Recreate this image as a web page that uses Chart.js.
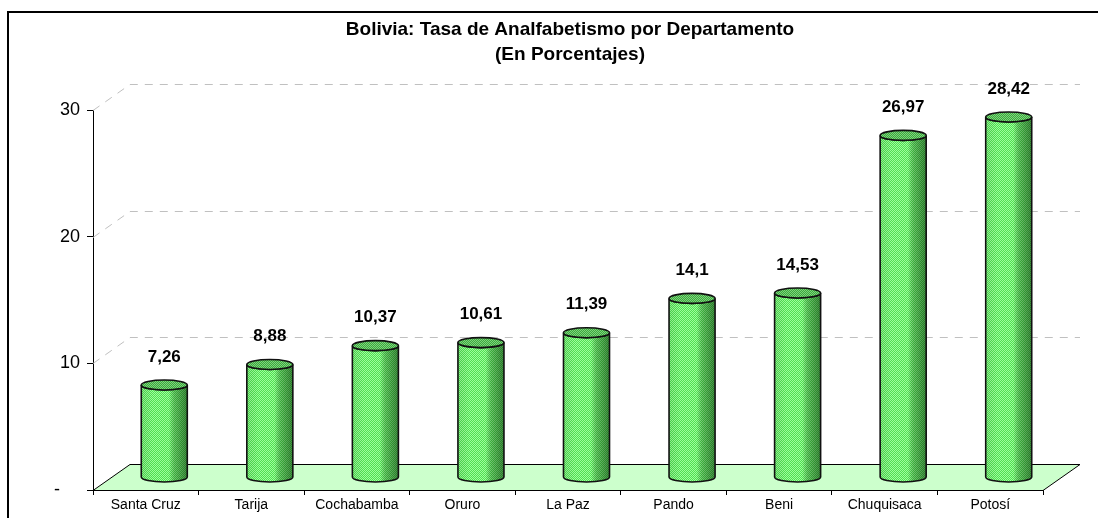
<!DOCTYPE html>
<html>
<head>
<meta charset="utf-8">
<script src="https://cdn.jsdelivr.net/npm/chart.js@4.4.1/dist/chart.umd.min.js"></script>
<style>
  html, body { margin: 0; padding: 0; background: #fff; }
  canvas { display: block; }
</style>
</head>
<body>
<canvas id="c" width="1098" height="518"></canvas>
<script>
// ---- data ----
const categories = ['Santa Cruz', 'Tarija', 'Cochabamba', 'Oruro', 'La Paz', 'Pando', 'Beni', 'Chuquisaca', 'Potosí'];
const values = [7.26, 8.88, 10.37, 10.61, 11.39, 14.1, 14.53, 26.97, 28.42];
const yTicks = [0, 10, 20, 30];
const titleLines = ['Bolivia: Tasa de Analfabetismo por Departamento', '(En Porcentajes)'];

// ---- style ----
const FONT = '"Liberation Sans", Arial, sans-serif';
const DX = 37, DY = 26;   // 3D depth offset
const RY = 5;             // ellipse vertical radius

function checker(c1, c2) {
  const p = document.createElement('canvas');
  p.width = 2; p.height = 2;
  const g = p.getContext('2d');
  g.fillStyle = c1; g.fillRect(0, 0, 2, 2);
  g.fillStyle = c2; g.fillRect(0, 0, 1, 1); g.fillRect(1, 1, 1, 1);
  return p;
}

const threeD = {
  id: 'threeD',
  beforeDraw(chart) {
    const ctx = chart.ctx;
    ctx.save();
    ctx.fillStyle = '#fff';
    ctx.fillRect(0, 0, chart.width, chart.height);
    // outer frame
    ctx.strokeStyle = '#000';
    ctx.lineWidth = 2;
    ctx.beginPath();
    ctx.moveTo(8, chart.height + 2);
    ctx.lineTo(8, 12);
    ctx.lineTo(chart.width + 2, 12);
    ctx.stroke();
    // title
    ctx.fillStyle = '#000';
    ctx.font = 'bold 19px ' + FONT;
    ctx.textAlign = 'center';
    ctx.textBaseline = 'middle';
    ctx.fillText(titleLines[0], 570, 30);
    ctx.fillText(titleLines[1], 570, 55);
    ctx.restore();
  },
  beforeDatasetsDraw(chart) {
    const ctx = chart.ctx;
    const a = chart.chartArea;
    const y = chart.scales.y;
    ctx.save();
    // back grid lines
    ctx.strokeStyle = '#c0c0c0';
    ctx.lineWidth = 1;
    ctx.setLineDash([8, 7]);
    yTicks.forEach(v => {
      if (v === 0) return;
      const py = Math.round(y.getPixelForValue(v)) + 0.5;
      ctx.beginPath();
      ctx.moveTo(a.left, py);
      ctx.lineTo(a.left + DX, py - DY);
      ctx.lineTo(a.right + DX, py - DY);
      ctx.stroke();
    });
    ctx.setLineDash([]);
    // floor
    const fy = Math.round(y.getPixelForValue(0)) + 0.5;
    ctx.beginPath();
    ctx.moveTo(a.left, fy);
    ctx.lineTo(a.left + DX, fy - DY);
    ctx.lineTo(a.right + DX, fy - DY);
    ctx.lineTo(a.right, fy);
    ctx.closePath();
    ctx.fillStyle = '#ccffcc';
    ctx.fill();
    ctx.strokeStyle = '#000';
    ctx.lineWidth = 1;
    ctx.stroke();
    ctx.restore();
  },
  afterDatasetsDraw(chart) {
    const ctx = chart.ctx;
    const y = chart.scales.y;
    const meta = chart.getDatasetMeta(0);
    const bodyPat = ctx.createPattern(checker('#52dd52', '#9cff9c'), 'repeat');
    const topPat = ctx.createPattern(checker('#3ea63e', '#7cd67c'), 'repeat');
    ctx.save();
    meta.data.forEach((bar, i) => {
      const v = chart.data.datasets[0].data[i];
      const rx = bar.width / 2;
      const cx = bar.x + DX / 2;
      const topY = y.getPixelForValue(v) - DY / 2;
      const botY = y.getPixelForValue(0) - DY / 2;
      // body path
      ctx.beginPath();
      ctx.moveTo(cx - rx, topY);
      ctx.lineTo(cx - rx, botY);
      ctx.ellipse(cx, botY, rx, RY, 0, Math.PI, 0, true);
      ctx.lineTo(cx + rx, topY);
      ctx.ellipse(cx, topY, rx, RY, 0, 0, Math.PI, false);
      ctx.closePath();
      ctx.fillStyle = bodyPat;
      ctx.fill();
      const g = ctx.createLinearGradient(cx - rx, 0, cx + rx, 0);
      g.addColorStop(0, 'rgba(0,60,0,0.10)');
      g.addColorStop(0.25, 'rgba(0,0,0,0)');
      g.addColorStop(0.6, 'rgba(0,0,0,0)');
      g.addColorStop(0.72, 'rgba(0,50,0,0.28)');
      g.addColorStop(1, 'rgba(0,40,0,0.55)');
      ctx.fillStyle = g;
      ctx.fill();
      ctx.strokeStyle = '#111';
      ctx.lineWidth = 1.6;
      ctx.stroke();
      // top ellipse
      ctx.beginPath();
      ctx.ellipse(cx, topY, rx, RY, 0, 0, Math.PI * 2);
      ctx.fillStyle = topPat;
      ctx.fill();
      ctx.stroke();
      // value label
      ctx.fillStyle = '#000';
      ctx.font = 'bold 17px ' + FONT;
      ctx.textAlign = 'center';
      ctx.textBaseline = 'middle';
      ctx.fillText(String(v).replace('.', ','), cx, topY - 28);
    });
    ctx.restore();
  }
};

new Chart(document.getElementById('c'), {
  type: 'bar',
  data: {
    labels: categories,
    datasets: [{
      data: values,
      backgroundColor: 'rgba(0,0,0,0)',
      borderWidth: 0,
      categoryPercentage: 1,
      barPercentage: 0.436
    }]
  },
  options: {
    responsive: false,
    animation: false,
    devicePixelRatio: 1,
    layout: { padding: { top: 110, right: 55, bottom: 0, left: 0 } },
    plugins: {
      legend: { display: false },
      title: { display: false },
      tooltip: { enabled: false }
    },
    scales: {
      x: {
        grid: { display: true, drawOnChartArea: false, drawTicks: true, tickLength: 5, color: '#000', offset: true },
        border: { display: true, color: '#000', width: 1 },
        ticks: { color: '#000', font: { family: FONT, size: 14 }, padding: 2, maxRotation: 0, autoSkip: false },
        afterFit(s) { s.height = 28; }
      },
      y: {
        min: 0,
        max: 30,
        afterBuildTicks(s) { s.ticks = yTicks.map(v => ({ value: v })); },
        grid: { display: true, drawOnChartArea: false, drawTicks: true, tickLength: 6, color: '#000' },
        border: { display: true, color: '#000', width: 1 },
        ticks: {
          color: '#000',
          font: { family: FONT, size: 18 },
          padding: 7,
          callback: v => (v === 0 ? '-    ' : String(v))
        },
        afterFit(s) { s.width = 93; }
      }
    }
  },
  plugins: [threeD]
});
</script>
</body>
</html>
